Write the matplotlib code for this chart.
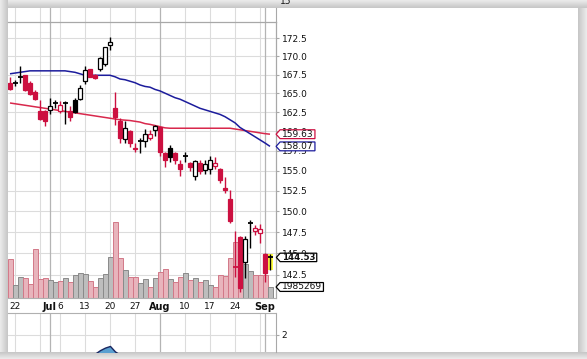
import numpy as np
import matplotlib
matplotlib.use("Agg")
import matplotlib.pyplot as plt
from matplotlib.path import Path
from matplotlib.patches import Rectangle
from matplotlib.ticker import FixedLocator, NullLocator, FormatStrFormatter
from matplotlib.transforms import blended_transform_factory

# ---------------- data ----------------
dates = ["2015-06-19", "2015-06-22", "2015-06-23", "2015-06-24", "2015-06-25", "2015-06-26",
         "2015-06-29", "2015-06-30", "2015-07-01", "2015-07-02",
         "2015-07-06", "2015-07-07", "2015-07-08", "2015-07-09", "2015-07-10",
         "2015-07-13", "2015-07-14", "2015-07-15", "2015-07-16", "2015-07-17",
         "2015-07-20", "2015-07-21", "2015-07-22", "2015-07-23", "2015-07-24",
         "2015-07-27", "2015-07-28", "2015-07-29", "2015-07-30", "2015-07-31",
         "2015-08-03", "2015-08-04", "2015-08-05", "2015-08-06", "2015-08-07",
         "2015-08-10", "2015-08-11", "2015-08-12", "2015-08-13", "2015-08-14",
         "2015-08-17", "2015-08-18", "2015-08-19", "2015-08-20", "2015-08-21",
         "2015-08-24", "2015-08-25", "2015-08-26", "2015-08-27", "2015-08-28",
         "2015-08-31", "2015-09-01", "2015-09-02"]

opens = [166.4, 166.3, 167.1, 167.4, 166.4, 165.1, 162.6, 162.6, 162.8, 163.6,
         162.6, 163.6, 162.7, 164.1, 164.2, 166.6, 168.2, 167.4, 168.2, 168.9,
         171.5, 163.0, 161.4, 159.0, 160.0, 157.9, 158.7, 158.7, 159.2, 160.2,
         160.5, 157.2, 157.8, 157.2, 155.9, 156.8, 156.0, 154.3, 156.0, 155.1,
         155.2, 155.6, 155.2, 152.8, 151.5, 143.5, 146.9, 144.0, 148.5, 147.7,
         147.4, 144.9, 144.4]
highs = [167.1, 166.7, 168.7, 167.5, 166.6, 165.4, 164.1, 162.8, 164.4, 164.1,
         163.9, 163.9, 163.3, 164.3, 166.1, 168.6, 168.3, 167.6, 169.9, 171.3,
         172.6, 165.2, 161.7, 161.4, 160.2, 158.5, 159.1, 160.3, 160.2, 160.8,
         160.6, 157.4, 158.2, 157.3, 156.3, 157.4, 156.1, 156.4, 156.3, 156.4,
         156.8, 156.7, 155.3, 154.2, 152.6, 147.6, 147.1, 147.1, 149.0, 148.4,
         148.5, 145.0, 144.9]
lows = [165.4, 165.9, 166.3, 165.3, 164.7, 164.1, 161.5, 160.7, 162.3, 163.1,
        162.4, 161.0, 161.3, 162.4, 164.1, 166.2, 167.1, 166.9, 168.0, 168.7,
        170.8, 160.8, 158.5, 158.5, 158.0, 157.3, 157.2, 158.0, 158.9, 159.4,
        156.8, 155.5, 156.1, 155.8, 154.3, 156.1, 154.9, 153.9, 154.6, 154.6,
        154.6, 155.2, 153.5, 152.2, 148.6, 142.3, 140.6, 142.1, 145.6, 147.2,
        146.2, 141.7, 143.1]
closes = [165.6, 166.4, 167.2, 165.4, 164.9, 164.2, 161.6, 161.3, 163.3, 163.7,
          163.4, 163.7, 161.8, 162.5, 165.7, 168.1, 167.2, 167.0, 169.7, 171.2,
          171.9, 161.8, 159.1, 160.4, 158.5, 157.7, 158.8, 159.7, 159.6, 160.7,
          157.4, 156.3, 156.7, 156.3, 155.2, 156.9, 155.5, 156.2, 155.0, 155.8,
          156.3, 156.0, 153.9, 152.6, 148.8, 143.4, 141.0, 146.7, 148.6, 148.0,
          147.9, 142.7, 144.53]
prev_close_first = 167.0

volumes = [6850000, 2280000, 3690000, 3510000, 2460000, 8610000, 3340000, 3510000, 3220000, 2860000,
           2990000, 3510000, 2860000, 4040000, 4390000, 4220000, 2990000, 1930000, 3510000, 4220000,
           7200000, 13350000, 7030000, 4920000, 3690000, 3690000, 2640000, 3340000, 1930000, 3510000,
           4570000, 5100000, 3340000, 2930000, 3690000, 4390000, 3220000, 3510000, 2930000, 3220000,
           2340000, 1930000, 4090000, 3920000, 7030000, 9840000, 7200000, 5970000, 4850000, 4090000,
           4090000, 4090000, 1985269]

ma_blue = [167.6, 167.7, 167.8, 167.9, 168.0, 168.0, 168.0, 168.0, 168.0, 168.0,
           168.0, 168.0, 167.9, 167.8, 167.6, 167.4, 167.4, 167.4, 167.4, 167.4,
           167.4, 167.2, 166.9, 166.8, 166.6, 166.4, 166.1, 165.9, 165.8, 165.5,
           165.3, 165.0, 164.7, 164.4, 164.2, 163.9, 163.6, 163.3, 163.0, 162.8,
           162.6, 162.4, 162.2, 161.9, 161.5, 161.1, 160.5, 160.1, 159.7, 159.3,
           158.9, 158.5, 158.07]
ma_red = [163.7, 163.6, 163.5, 163.4, 163.3, 163.2, 163.1, 163.0, 162.9, 162.8,
          162.7, 162.6, 162.5, 162.4, 162.3, 162.2, 162.1, 162.0, 161.9, 161.8,
          161.7, 161.6, 161.5, 161.45, 161.4, 161.3, 161.2, 161.0, 160.9, 160.75,
          160.6, 160.45, 160.4, 160.4, 160.4, 160.4, 160.4, 160.4, 160.4, 160.4,
          160.4, 160.4, 160.4, 160.4, 160.4, 160.3, 160.2, 160.1, 160.0, 159.9,
          159.8, 159.7, 159.63]

# lower indicator panel (only the visible hump)
ind_dates = ["2015-07-15", "2015-07-16", "2015-07-17", "2015-07-20", "2015-07-21", "2015-07-22"]
ind_vals = [0.3, 0.62, 0.85, 1.0, 0.5, 0.2]

price_ticks = [142.5, 145.0, 147.5, 150.0, 152.5, 155.0, 157.5, 160.0, 162.5, 165.0, 167.5, 170.0, 172.5]
tick_dates = ["2015-06-22", "2015-07-01", "2015-07-06", "2015-07-13", "2015-07-20", "2015-07-27",
              "2015-08-03", "2015-08-10", "2015-08-17", "2015-08-24", "2015-09-01"]
tick_labels = ["22", "Jul", "6", "13", "20", "27", "Aug", "10", "17", "24", "Sep"]
month_labels = {"Jul", "Aug", "Sep"}
week_grid = ["2015-06-22", "2015-06-29", "2015-07-06", "2015-07-13", "2015-07-20", "2015-07-27",
             "2015-08-10", "2015-08-17", "2015-08-24", "2015-08-31"]
month_grid = ["2015-07-01", "2015-08-03", "2015-09-01"]
low_ticks = [2]

# ---------------- style ----------------
W, H = 587, 359
RED = "#cc1040"
BLACK = "#000000"
BLUE_MA = "#1c1c9c"
RED_MA = "#d8284c"
GRID = "#dcdcdc"
GRID_M = "#b4b4b4"
SPINE = "#a8a8a8"
VOL_TOP = 48.5e6
PRICE_LIM = (139.84, 174.75)
XLIM = (-0.4, 53.2)

plt.rcParams['font.family'] = ['DejaVu Sans']

fig = plt.figure(figsize=(W / 100, H / 100), dpi=100)
fig.patch.set_facecolor('white')


def fx(px):
    return px / W


def fy(py):
    return 1 - py / H


# ---- background shadow frame ----
bg = fig.add_axes([0, 0, 1, 1], zorder=-5)
bg.set_xlim(0, W)
bg.set_ylim(H, 0)
bg.axis('off')


def gradient(x0, x1, y0, y1, horizontal, c0, c1):
    n = 32
    t = np.linspace(0, 1, n)
    c0 = np.array(matplotlib.colors.to_rgb(c0))
    c1 = np.array(matplotlib.colors.to_rgb(c1))
    cols = c0[None, :] * (1 - t[:, None]) + c1[None, :] * t[:, None]
    arr = cols[None, :, :] if horizontal else cols[:, None, :]
    bg.imshow(arr, extent=(x0, x1, y1, y0), aspect='auto', interpolation='bilinear', origin='upper')


SH_OUT, SH_IN = "#ececec", "#c6c6c6"
gradient(0, W, 0, 8, False, SH_OUT, SH_IN)          # top
gradient(0, 8, 0, H, True, SH_OUT, SH_IN)           # left
gradient(578, W, 8, H, True, SH_IN, SH_OUT)         # right
gradient(0, W, 352, H, False, SH_IN, SH_OUT)        # bottom
bg.set_xlim(0, W)
bg.set_ylim(H, 0)

idx = {d: i for i, d in enumerate(dates)}
x = np.arange(len(dates))

ax_w = fx(276) - fx(8)

# ---- main price + volume axes ----
ax = fig.add_axes([fx(8), fy(298.3), ax_w, fy(22) - fy(298.3)], zorder=2)
ax.set_facecolor('white')
ax.set_yscale('log')
ax.set_ylim(*PRICE_LIM)
ax.set_xlim(*XLIM)
ax.yaxis.tick_right()
ax.yaxis.set_major_locator(FixedLocator(price_ticks))
ax.yaxis.set_major_formatter(FormatStrFormatter('%.1f'))
ax.yaxis.set_minor_locator(NullLocator())
ax.tick_params(axis='y', which='major', direction='out', length=2.5, width=0.8,
               color=SPINE, labelsize=6.5, pad=1.5, labelcolor='#111111')
ax.set_xticks([idx[d] for d in tick_dates])
ax.set_xticklabels(tick_labels)
for lab in ax.get_xticklabels():
    if lab.get_text() in month_labels:
        lab.set_fontweight('bold')
        lab.set_fontsize(7)
    else:
        lab.set_fontsize(6.5)
ax.tick_params(axis='x', length=0, pad=2.6, labelcolor='#111111')
ax.xaxis.set_minor_locator(NullLocator())
ax.spines['left'].set_visible(False)
ax.spines['top'].set_color(SPINE)
ax.spines['top'].set_linewidth(0.9)
ax.spines['right'].set_color(SPINE)
ax.spines['right'].set_linewidth(0.9)
ax.spines['bottom'].set_color('#b0b0b0')
ax.spines['bottom'].set_linestyle((0, (1, 1)))
ax.spines['bottom'].set_linewidth(0.8)

for p in price_ticks:
    ax.axhline(p, color=GRID, lw=0.8, zorder=0.5)
for d in week_grid:
    ax.axvline(idx[d], color=GRID, lw=0.8, zorder=0.5)
for d in month_grid:
    ax.axvline(idx[d], color=GRID_M, lw=0.9, zorder=0.6)

# volume bars (bottom of price panel)
vtrans = blended_transform_factory(ax.transData, ax.transAxes)
prev = [prev_close_first] + closes[:-1]
up = [c >= p for c, p in zip(closes, prev)]
for i, v in enumerate(volumes):
    fc, ec = ("#bdbdbd", "#8a8a8a") if up[i] else ("#e8b4bc", "#d27888")
    ax.add_patch(Rectangle((x[i] - 0.5, 0), 1.0, v / VOL_TOP, transform=vtrans,
                           facecolor=fc, edgecolor=ec, lw=0.7, zorder=1))

# yellow highlight behind last candle
ax.add_patch(Rectangle((x[-1] - 0.55, lows[-1]), 1.2, highs[-1] - lows[-1],
                       facecolor="#ffff40", edgecolor='none', zorder=2))

# moving averages
ax.plot(x, ma_red, color=RED_MA, lw=1.1, zorder=3, solid_capstyle='butt')
ax.plot(x, ma_blue, color=BLUE_MA, lw=1.1, zorder=3, solid_capstyle='butt')

# candles
for i in range(len(dates)):
    o, h, l, c = opens[i], highs[i], lows[i], closes[i]
    col = BLACK if up[i] else RED
    ax.vlines(x[i], l, h, color=col, lw=1.0, zorder=4)
    if abs(c - o) < 0.15:
        ax.hlines(c, x[i] - 0.5, x[i] + 0.5, color=col, lw=1.3, zorder=5)
    else:
        filled = c < o
        ax.add_patch(Rectangle((x[i] - 0.36, min(o, c)), 0.72, abs(c - o),
                               facecolor=col if filled else 'white', edgecolor=col,
                               lw=0.9, zorder=5))


# price tags
def tag_style(x0, y0, width, height, mutation_size):
    pad_x = 0.18 * mutation_size
    h = 0.98 * mutation_size
    cy = y0 + height / 2
    tip = 0.45 * h
    left = x0 - pad_x
    right = x0 + width + pad_x
    verts = [(left - tip, cy), (left, cy + h / 2), (right, cy + h / 2),
             (right, cy - h / 2), (left, cy - h / 2), (left - tip, cy)]
    codes = [Path.MOVETO, Path.LINETO, Path.LINETO, Path.LINETO, Path.LINETO, Path.CLOSEPOLY]
    return Path(verts, codes)


def tag(text, xy, coords, edge, bold=False, size=6.5):
    ax.annotate(text, xy=xy, xycoords=coords, xytext=(4.1, 0), textcoords='offset points',
                ha='left', va='center', fontsize=size, color='#111111',
                fontweight='bold' if bold else 'normal',
                bbox=dict(boxstyle=tag_style, fc='white', ec=edge, lw=0.9),
                annotation_clip=False, zorder=10)


tag(f"{ma_red[-1]:.2f}", (1, ma_red[-1]), ('axes fraction', 'data'), RED)
tag(f"{ma_blue[-1]:.2f}", (1, ma_blue[-1]), ('axes fraction', 'data'), BLUE_MA)
tag(f"{closes[-1]:.2f}", (1, closes[-1]), ('axes fraction', 'data'), BLACK, bold=True, size=6.2)
tag(f"{volumes[-1]}", (1, volumes[-1] / VOL_TOP), 'axes fraction', BLACK)

# ---- thin strip above the price panel ----
ax_top = fig.add_axes([fx(8), fy(22), ax_w, fy(8) - fy(22)], zorder=1)
ax_top.set_xlim(*XLIM)
ax_top.set_ylim(0, 1)
ax_top.set_xticks([])
ax_top.set_yticks([])
for s in ['left', 'top', 'bottom']:
    ax_top.spines[s].set_visible(False)
ax_top.spines['right'].set_color(SPINE)
for d in week_grid:
    ax_top.axvline(idx[d], color=GRID, lw=0.8)
for d in month_grid:
    ax_top.axvline(idx[d], color=GRID_M, lw=0.9)
fig.text(fx(280), fy(4.5), "15", fontsize=6.5, color='#111111', va='baseline', ha='left', zorder=20)

# ---- lower indicator panel ----
ax_low = fig.add_axes([fx(8), fy(352), ax_w, fy(313) - fy(352)], zorder=1)
ax_low.set_xlim(*XLIM)
ax_low.set_ylim(0.45, 4.0)
ax_low.set_xticks([])
ax_low.yaxis.tick_right()
ax_low.set_yticks(low_ticks)
ax_low.set_yticklabels([str(t) for t in low_ticks])
ax_low.tick_params(axis='y', length=2.5, color=SPINE, labelsize=6.5, pad=1.5, labelcolor='#111111')
for s in ['left', 'bottom']:
    ax_low.spines[s].set_visible(False)
ax_low.spines['top'].set_color('#b0b0b0')
ax_low.spines['top'].set_linestyle((0, (1, 1)))
ax_low.spines['right'].set_color(SPINE)
for t in low_ticks:
    ax_low.axhline(t, color=GRID, lw=0.8, zorder=0.5)
for d in week_grid:
    ax_low.axvline(idx[d], color=GRID, lw=0.8, zorder=0.5)
for d in month_grid:
    ax_low.axvline(idx[d], color=GRID_M, lw=0.9, zorder=0.6)
ix = [idx[d] for d in ind_dates]
ax_low.fill_between(ix, 0, ind_vals, facecolor="#5a9fd0", edgecolor="#1a2660", lw=1.0, zorder=2)

fig.savefig("out.png", dpi=100, facecolor=fig.get_facecolor())
